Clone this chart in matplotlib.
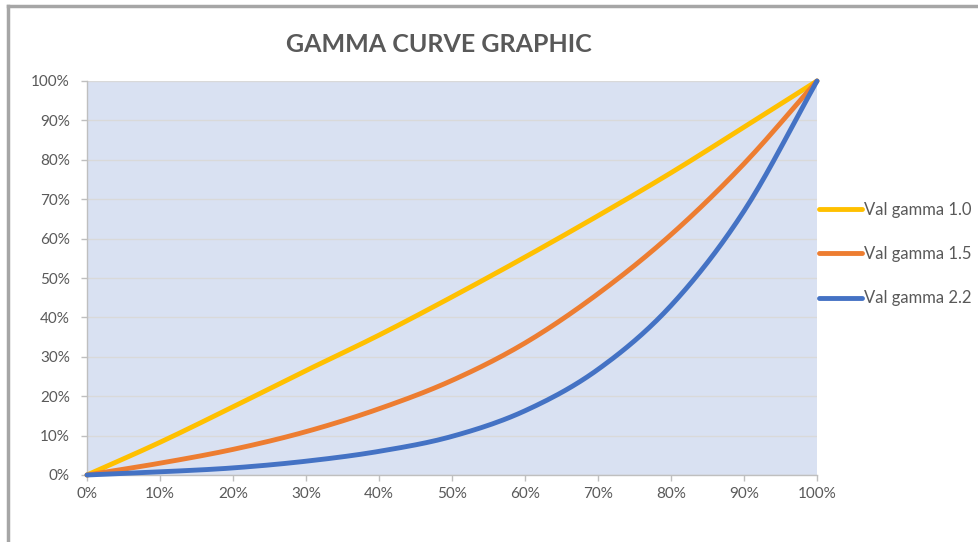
import numpy as np
import matplotlib.pyplot as plt
from matplotlib.lines import Line2D
from matplotlib.ticker import PercentFormatter

# ========================================
# Data (percent values)
# ========================================
x_pct = [0, 10, 20, 30, 40, 50, 60, 70, 80, 90, 100]
gamma_10 = [0, 8.3, 17.3, 26.5, 35.5, 45.2, 55.3, 65.8, 76.7, 88.3, 100]
gamma_15 = [0, 3.0, 6.5, 11.0, 16.8, 24.0, 33.5, 46.0, 61.0, 79.0, 100]
gamma_22 = [0, 0.8, 1.8, 3.5, 6.0, 9.8, 16.3, 26.8, 43.0, 67.0, 100]

series_labels = ['Val gamma 1.0', 'Val gamma 1.5', 'Val gamma 2.2']
series_colors = ['#FFC000', '#ED7D31', '#4472C4']
tick_vals = [0, 10, 20, 30, 40, 50, 60, 70, 80, 90, 100]

FONT = 'Lato'
TXT = '#595959'


def smooth(xs, ys, steps=20):
    """Catmull-Rom pass through the points, like Excel's 'smoothed line'."""
    xs = np.asarray(xs, float)
    ys = np.asarray(ys, float)
    px = np.concatenate([[2 * xs[0] - xs[1]], xs, [2 * xs[-1] - xs[-2]]])
    py = np.concatenate([[2 * ys[0] - ys[1]], ys, [2 * ys[-1] - ys[-2]]])
    out_x, out_y = [], []
    t = np.linspace(0, 1, steps, endpoint=False)
    for i in range(1, len(px) - 2):
        for arr, out in ((px, out_x), (py, out_y)):
            p0, p1, p2, p3 = arr[i - 1], arr[i], arr[i + 1], arr[i + 2]
            out.extend(0.5 * ((2 * p1) + (-p0 + p2) * t
                              + (2 * p0 - 5 * p1 + 4 * p2 - p3) * t ** 2
                              + (-p0 + 3 * p1 - 3 * p2 + p3) * t ** 3))
    out_x.append(xs[-1])
    out_y.append(ys[-1])
    return np.array(out_x), np.array(out_y)


fig = plt.figure(figsize=(9.79, 5.42), dpi=100)
ax = fig.add_axes([87 / 979, 1 - 475 / 542, 730 / 979, 394 / 542])
ax.set_facecolor('#D9E1F2')

for ys, lab, col in zip([gamma_10, gamma_15, gamma_22], series_labels, series_colors):
    sx, sy = smooth(x_pct, ys)
    ax.plot(sx, sy, color=col, lw=3.5, label=lab, solid_capstyle='round',
            clip_on=False, zorder=3)

ax.set_xlim(0, 100)
ax.set_ylim(0, 100)
ax.set_xticks(tick_vals)
ax.set_yticks(tick_vals)
ax.xaxis.set_major_formatter(PercentFormatter(decimals=0))
ax.yaxis.set_major_formatter(PercentFormatter(decimals=0))

ax.grid(axis='y', color='#D9D9D9', lw=1.0, zorder=1)
ax.set_axisbelow(True)
for s in ['top', 'right']:
    ax.spines[s].set_visible(False)
for s in ['left', 'bottom']:
    ax.spines[s].set_color('#BFBFBF')
    ax.spines[s].set_linewidth(1.0)

ax.tick_params(axis='both', colors='#BFBFBF', labelcolor=TXT, length=4.3, width=1.0,
               labelsize=11)
ax.tick_params(axis='y', pad=8)
ax.tick_params(axis='x', pad=4)
for lab in ax.get_xticklabels() + ax.get_yticklabels():
    lab.set_fontfamily(FONT)

leg = ax.legend(loc='center left', bbox_to_anchor=(1.0, (475 - 254) / 394),
                frameon=False, borderaxespad=0.1, borderpad=0.0,
                handlelength=2.6, handletextpad=0.1, labelspacing=1.7,
                prop={'family': FONT, 'size': 12})
for t in leg.get_texts():
    t.set_color(TXT)

fig.text(439 / 979, 1 - 44 / 542, 'GAMMA CURVE GRAPHIC', ha='center', va='center',
         fontsize=18, fontweight='bold', color=TXT, family=FONT)

# gray frame along the top and left edges
fig.add_artist(Line2D([8.5 / 979, 1.0], [1 - 5.5 / 542, 1 - 5.5 / 542],
                      transform=fig.transFigure, color='#A6A6A6', lw=2.5))
fig.add_artist(Line2D([8.5 / 979, 8.5 / 979], [0.0, 1 - 5.5 / 542],
                      transform=fig.transFigure, color='#A6A6A6', lw=2.5))

fig.savefig('out.png', dpi=100)
